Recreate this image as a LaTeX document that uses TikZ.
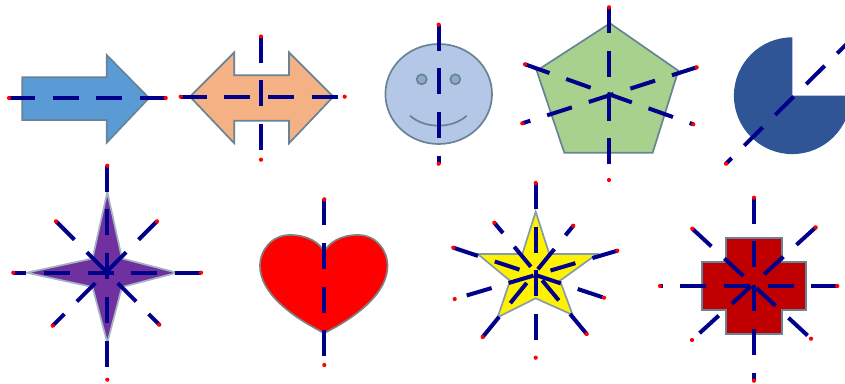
\documentclass[tikz,border=0pt]{standalone}
\definecolor{ArrowBlue}{RGB}{91, 155, 213}
\definecolor{ArrowOrange}{RGB}{244, 177, 131}
\definecolor{FaceBlue}{RGB}{180, 199, 231}
\definecolor{EyeBlue}{RGB}{143, 170, 200}
\definecolor{PentaGreen}{RGB}{169, 209, 142}
\definecolor{PieBlue}{RGB}{47, 85, 151}
\definecolor{StarPurple}{RGB}{112, 48, 160}
\definecolor{CrossRed}{RGB}{192, 0, 0}
\definecolor{ShapeEdge}{RGB}{104, 130, 150}
\definecolor{AxisNavy}{RGB}{0, 0, 139}
\usetikzlibrary{calc}
\tikzset{
  shapefill/.style={draw=ShapeEdge, line width=1.7pt, line join=miter},
  axisline/.style={draw=AxisNavy, line width=4pt, dash pattern=on 26pt off 17.7pt},
  enddot/.style={fill=red, draw=none},
}

\begin{document}
\begin{tikzpicture}[x=1pt, y=-1pt]
  \useasboundingbox (0,0) rectangle (845,383);

  % top row
  \draw[shapefill, fill=ArrowBlue] (22.3,77.3) -- (106.7,77.3) -- (106.7,55) -- (149,98) -- (106.7,142.7) -- (106.7,120) -- (22.3,120) -- cycle;
  \draw[shapefill, fill=ArrowOrange] (190,96.7) -- (234.3,52.3) -- (234.3,75.3) -- (289,75.3) -- (289,52.3) -- (333.3,96.7) -- (289,143.3) -- (289,120.7) -- (234.3,120.7) -- (234.3,143.3) -- cycle;
  \draw[shapefill, fill=FaceBlue] (438.7,94) ellipse [x radius=53.3, y radius=50];
  \draw[shapefill, fill=EyeBlue] (421.7,79.3) circle (5);
  \draw[shapefill, fill=EyeBlue] (455.3,79.3) circle (5);
  \draw[shapefill] (410,115.7) .. controls (425,129) and (452,129) .. (466.7,115.7);
  \draw[shapefill, fill=PentaGreen] (610,23.3) -- (678.3,70.7) -- (652.7,152.7) -- (564.3,152.7) -- (536.7,70.7) -- cycle;
  \fill[PieBlue] (792.3,95.7) -- (792.3,37.3) arc [start angle=-90, end angle=-360, radius=58.4] -- cycle;

  % bottom row
  \draw[shapefill, draw=ShapeEdge!60, fill=StarPurple] (107.3,192) -- (122,258.5) -- (177,272.7) -- (122,287) -- (107.3,342.7) -- (92.5,287) -- (26.7,272.7) -- (92.5,258.5) -- cycle;
  \draw[shapefill, draw=gray, fill=red] (324.3,252) .. controls (320,243) and (308,235) .. (290,235) .. controls (272,235) and (260,250) .. (260,266) .. controls (260,293) and (292,317) .. (324.3,333) .. controls (356.6,317) and (387.5,293) .. (387.5,266) .. controls (387.5,250) and (376,235) .. (358,235) .. controls (340,235) and (328.5,243) .. (324.3,252) -- cycle;
  \draw[shapefill, draw=ShapeEdge!80, fill=yellow] (535.7,211.7) -- (549.3,254) -- (597,254) -- (560,280.7) -- (572.7,315) -- (535.7,298.3) -- (497.7,317.3) -- (510,280.7) -- (477.7,254) -- (522.3,254) -- cycle;
  \draw[shapefill, fill=CrossRed] (725.7,238.3) -- (781.7,238.3) -- (781.7,261.7) -- (805.7,261.7) -- (805.7,310) -- (781.7,310) -- (781.7,334) -- (725.7,334) -- (725.7,310) -- (701.7,310) -- (701.7,261.7) -- (725.7,261.7) -- cycle;

  % end points of the axes
  \coordinate (arrowL) at (9,98);
  \coordinate (arrowR) at (165.7,98);
  \coordinate (dblL) at (180.7,96.7);
  \coordinate (dblR) at (344.7,96.7);
  \coordinate (dblT) at (261,36.5);
  \coordinate (dblB) at (261,159.7);
  \coordinate (faceT) at (438.7,24.7);
  \coordinate (faceB) at (438.7,163.7);
  \coordinate (pentaT) at (609,7.3);
  \coordinate (pentaB) at (609,180);
  \coordinate (pentaA) at (525,64.3);
  \coordinate (pentaC) at (693.3,124.3);
  \coordinate (pentaD) at (696.7,67.3);
  \coordinate (pentaE) at (522.3,123.3);
  \coordinate (pieS) at (855.7,35);
  \coordinate (pieE) at (726,163.7);
  \coordinate (fourT) at (107.3,165.7);
  \coordinate (fourB) at (107.3,379.7);
  \coordinate (fourR) at (201,272.7);
  \coordinate (fourL) at (13.3,272.7);
  \coordinate (fourA) at (56,221.3);
  \coordinate (fourC) at (159.3,324.7);
  \coordinate (fourD) at (157,221.3);
  \coordinate (fourE) at (52.7,325.7);
  \coordinate (heartT) at (324.3,199.3);
  \coordinate (heartB) at (324.3,365);
  \coordinate (starT) at (535.7,183);
  \coordinate (starB) at (535.7,357.7);
  \coordinate (starA) at (453.3,247.7);
  \coordinate (starC) at (604,297.7);
  \coordinate (starD) at (617.3,250.7);
  \coordinate (starE) at (454.7,299);
  \coordinate (starF) at (586.7,334);
  \coordinate (starG) at (494.3,222.7);
  \coordinate (starH) at (482.7,337);
  \coordinate (starI) at (573.3,225.7);
  \coordinate (crossT) at (754,197.7);
  \coordinate (crossB) at (754,380.7);
  \coordinate (crossR) at (837.3,286);
  \coordinate (crossL) at (660,286);
  \coordinate (crossA) at (692.3,228.7);
  \coordinate (crossC) at (811,338.7);
  \coordinate (crossD) at (815.7,227.3);
  \coordinate (crossE) at (692,340);

  \foreach \from/\to in {arrowL/arrowR, dblL/dblR, dblT/dblB, faceT/faceB, pentaT/pentaB, pentaA/pentaC, pentaD/pentaE, pieS/pieE, fourT/fourB, fourR/fourL, fourA/fourC, fourD/fourE, heartT/heartB, starT/starB, starA/starC, starD/starE, starF/starG, starH/starI, crossT/crossB, crossR/crossL, crossA/crossC, crossD/crossE} {
    \draw[axisline] (\from) -- (\to);
    \fill[enddot] (\from) circle (2.1);
    \fill[enddot] (\to) circle (2.1);
  }
\end{tikzpicture}
\end{document}
